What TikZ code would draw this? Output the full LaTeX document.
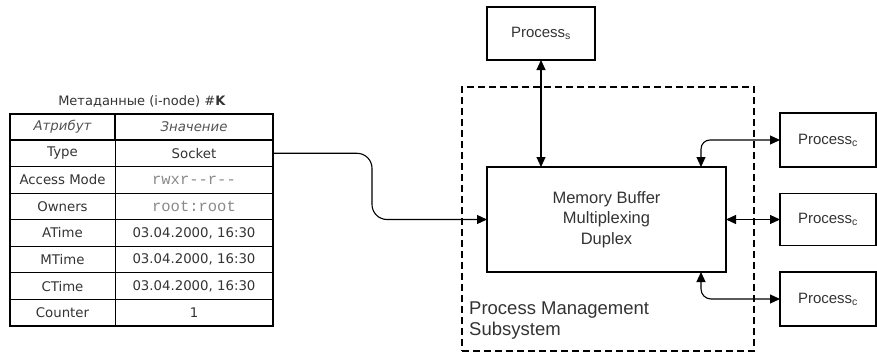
\documentclass[tikz,border=0pt]{standalone}
\usepackage{fontspec}
\setmainfont{Liberation Sans}
\newfontfamily\tabfont{DejaVu Sans}
\newfontfamily\monof{Liberation Mono}[Ligatures=TeXOff]
\usetikzlibrary{arrows.meta,calc}
\definecolor{txt}{HTML}{333333}
\definecolor{monoc}{HTML}{8A8A8A}
\begin{document}
\begin{tikzpicture}[x=1pt,y=-1pt,
  box/.style={draw,line width=1.1pt,inner sep=0pt,outer sep=0pt,text=txt},
  cell/.style={draw,line width=0.9pt,inner sep=0pt,outer sep=0pt,text=txt,
    font=\tabfont\fontsize{13.3}{15}\selectfont},
  hcell/.style={cell,line width=2.4pt,text=txt!85,font=\tabfont\itshape\fontsize{13.3}{15}\selectfont},
  conn/.style={line width=1.1pt},
  tipend/.style={-{Triangle[length=10pt,width=9pt]}},
  tipboth/.style={{Triangle[length=10pt,width=9pt]}-{Triangle[length=10pt,width=9pt]}}
]
\useasboundingbox (0,0) rectangle (877,353);

% ---- table ----
\node[text=txt,font=\tabfont\fontsize{13}{15}\selectfont,anchor=base] (title) at (142,105)
  {Метаданные (i-node) \#\textbf{K}};
\node[hcell,minimum width=105pt,minimum height=26.5pt] (ha) at (62.5,127) {Атрибут};
\node[hcell,minimum width=158pt,minimum height=26.5pt] (hv) at (194,127) {Значение};
\foreach \i/\a/\v in {1/Type/Socket,
    2/Access Mode/{\monof\fontsize{15.5}{16}\selectfont\color{monoc}rwxr--r--},
    3/Owners/{\monof\fontsize{15.5}{16}\selectfont\color{monoc}root:root},
    4/ATime/{03.04.2000, 16:30},
    5/MTime/{03.04.2000, 16:30},
    6/CTime/{03.04.2000, 16:30},
    7/Counter/1}{
  \node[cell,minimum width=105pt,minimum height=26.57pt] (a\i) at (62.5,{140+26.57*(\i-0.5)}) {\a};
  \node[cell,minimum width=158pt,minimum height=26.57pt] (v\i) at (194,{140+26.57*(\i-0.5)}) {\v};
}
\draw[line width=1.3pt] (a1.north west) rectangle (v7.south east);

% ---- right part ----
\node[draw,dash pattern=on 7pt off 4pt,line width=1.3pt,minimum width=292pt,minimum height=264pt,
  inner sep=0pt,outer sep=0pt] (pms) at (608,219) {};
\node[anchor=north west,inner sep=0pt,align=left,text=txt,
  font=\fontsize{18.5}{21}\selectfont] (pmslabel) at (469,302) {Process Management\\Subsystem};

\node[box,minimum width=108pt,minimum height=53pt,font=\fontsize{15}{17}\selectfont] (ps) at (541,33.5)
  {Process\textsubscript{s}};
\node[box,minimum width=239pt,minimum height=105pt,align=center,
  font=\fontsize{16.5}{20.5}\selectfont] (mem) at (606.5,219.5)
  {Memory Buffer\\Multiplexing\\Duplex};
\node[box,minimum width=96pt,minimum height=54pt,font=\fontsize{15}{17}\selectfont] (pc1) at (828,140)
  {Process\textsubscript{c}};
\node[box,minimum width=96pt,minimum height=52pt,font=\fontsize{15}{17}\selectfont] (pc2) at (828,219.5)
  {Process\textsubscript{c}};
\node[box,minimum width=96pt,minimum height=54pt,font=\fontsize{15}{17}\selectfont] (pc3) at (828,299)
  {Process\textsubscript{c}};

\coordinate (mt) at ([xshift=-25pt]mem.north east);
\coordinate (mb) at ([xshift=-25pt]mem.south east);

% ---- connectors ----
\draw[conn,tipend,rounded corners=15pt] (v1.east) -- (372,153.3) -- (372,219.5) -- (mem.west);
\draw[conn,tipboth] (ps.south) -- (ps.south |- mem.north);
\draw[conn,tipboth,rounded corners=9pt] (pc1.west) -- (mt |- pc1.west) -- (mt);
\draw[conn,tipboth] (mem.east) -- (pc2.west);
\draw[conn,tipboth,rounded corners=10pt] (mb) -- (mb |- pc3.west) -- (pc3.west);
\end{tikzpicture}
\end{document}
